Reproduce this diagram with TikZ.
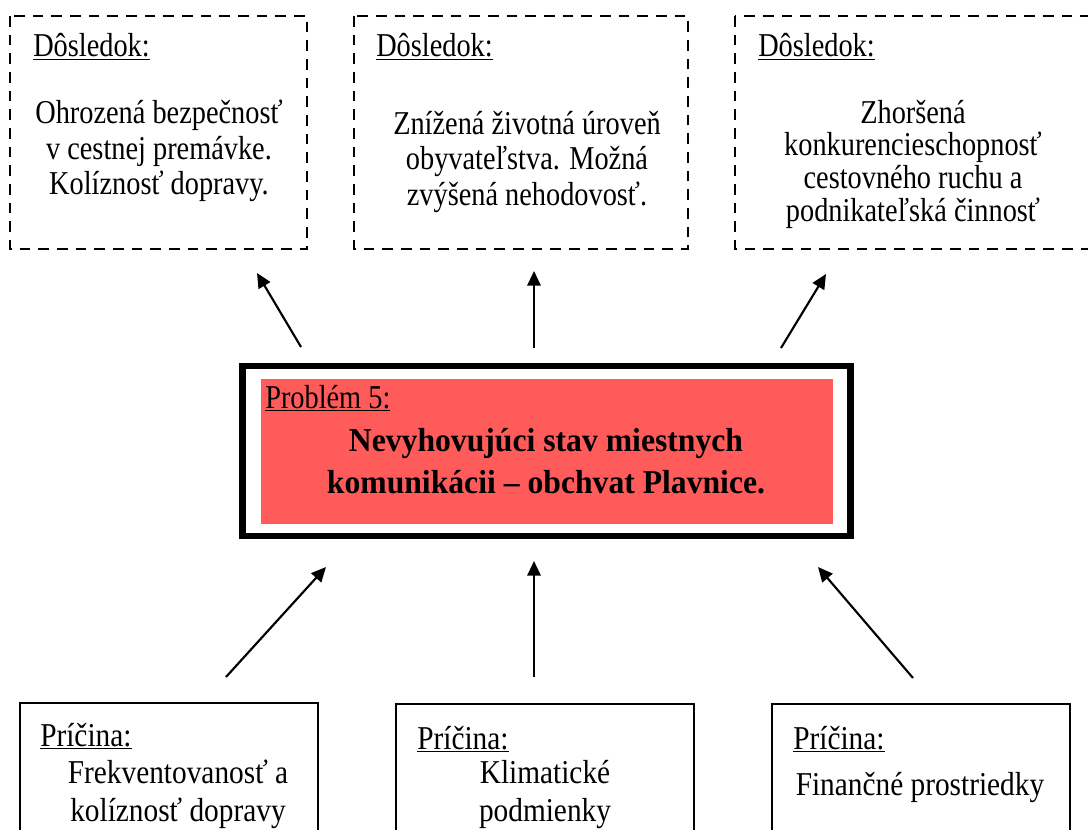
\documentclass[tikz,border=0pt]{standalone}
\usepackage{fontspec}
\setmainfont{Liberation Serif}[FakeStretch=0.85, BoldFeatures={FakeStretch=0.95}]
\newfontfamily\causefont{Liberation Serif}[FakeStretch=0.88]
\usetikzlibrary{arrows.meta}
\definecolor{probred}{RGB}{255,91,91}
\tikzset{
  dashbox/.style={draw, line width=1.8pt, dash pattern=on 8pt off 6pt},
  causebox/.style={draw, line width=1.1pt},
  arr/.style={line width=1.6pt, -{Triangle[length=11pt,width=10pt]}},
  lbl/.style={anchor=base west, inner sep=0pt, font=\fontsize{25}{26}\selectfont},
  clbl/.style={anchor=base west, inner sep=0pt, font=\causefont\fontsize{25}{26}\selectfont},
  body/.style={align=center, inner sep=0pt, font=\fontsize{25}{26.5}\selectfont},
  body3/.style={align=center, inner sep=0pt, font=\fontsize{25}{24.5}\selectfont},
  cbody/.style={align=center, inner sep=0pt, font=\causefont\fontsize{25}{28.5}\selectfont},
  bold/.style={align=center, inner sep=0pt, font=\fontsize{25}{32}\selectfont\bfseries},
}
\begin{document}
\begin{tikzpicture}[x=0.75pt,y=-0.75pt]
\useasboundingbox (0,0) rectangle (1088,830);
\clip (0,0) rectangle (1088,830);
% consequence boxes
\draw[dashbox] (10,16) rectangle (307,249);
\draw[dashbox] (354,16) rectangle (688,249);
\draw[dashbox] (735,16) rectangle (1100,249);
\node[lbl] (d1) at (33,57) {\underline{Dôsledok:}};
\node[lbl] (d2) at (376,57) {\underline{Dôsledok:}};
\node[lbl] (d3) at (758,57) {\underline{Dôsledok:}};
\node[body] (t1) at (159,151) {Ohrozená bezpečnosť\\v cestnej premávke.\\Kolíznosť dopravy.};
\node[body] (t2) at (527,162) {Znížená životná úroveň\\obyvateľstva. Možná\\zvýšená nehodovosť.};
\node[body3] (t3) at (913,164) {Zhoršená\\konkurencieschopnosť\\cestovného ruchu a\\podnikateľská činnosť};
% problem box
\draw[line width=4.9pt] (242.5,366) rectangle (850.5,536);
\fill[probred] (261,379) rectangle (833,524);
\node[lbl] (p) at (265,408) {\underline{Problém 5:}};
\node[bold] (pt) at (546,461) {Nevyhovujúci stav miestnych\\komunikácii – obchvat Plavnice.};
% cause boxes
\draw[causebox] (20,703) rectangle (318,850);
\draw[causebox] (396,704) rectangle (694,850);
\draw[causebox] (772,704) rectangle (1070,850);
\node[clbl] (c1) at (40,746) {\underline{Príčina:}};
\node[clbl] (c2) at (417,749) {\underline{Príčina:}};
\node[clbl] (c3) at (793,749) {\underline{Príčina:}};
\node[cbody] (ct1) at (178,794) {Frekventovanosť a\\kolíznosť dopravy};
\node[cbody] (ct2) at (545,795) {Klimatické\\podmienky};
\node[cbody] (ct3) at (920,787) {Finančné prostriedky};
% arrow ends
\coordinate (a1s) at (301,347); \coordinate (a1e) at (257,273);
\coordinate (a2s) at (534,348); \coordinate (a2e) at (534,271);
\coordinate (a3s) at (781,348); \coordinate (a3e) at (826,274);
\coordinate (b1s) at (226,677); \coordinate (b1e) at (326,567);
\coordinate (b2s) at (534,677); \coordinate (b2e) at (534,561);
\coordinate (b3s) at (913,678); \coordinate (b3e) at (818,567);
\draw[arr] (a1s) -- (a1e);
\draw[arr] (a2s) -- (a2e);
\draw[arr] (a3s) -- (a3e);
\draw[arr] (b1s) -- (b1e);
\draw[arr] (b2s) -- (b2e);
\draw[arr] (b3s) -- (b3e);
\end{tikzpicture}
\end{document}
